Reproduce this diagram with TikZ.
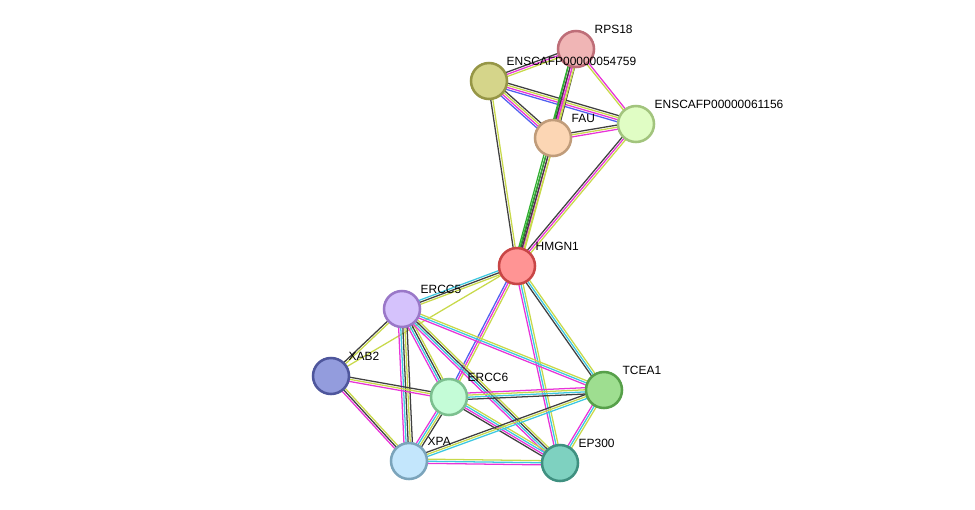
\documentclass[tikz,border=0pt]{standalone}
\usepackage{fontspec}
\setmainfont{Liberation Sans}
\usepackage{xcolor}
\usepackage{tikz}
\usetikzlibrary{positioning,calc,backgrounds}

\definecolor{tmyel}{HTML}{C8D94A}
\definecolor{expmag}{HTML}{E834D8}
\definecolor{dbcyan}{HTML}{3CC8E0}
\definecolor{coexp}{HTML}{404040}
\definecolor{homblue}{HTML}{5060F0}
\definecolor{nbgreen}{HTML}{30B030}

\tikzset{
  prot/.style={circle, draw, line width=1.8pt, minimum size=0.9cm, inner sep=0pt},
  lbl/.style={anchor=south west, inner sep=1pt, font=\fontsize{8.5}{9}\selectfont},
  link/.style={line width=0.9pt}
}

\newcommand{\multiedge}[4]{%
  \foreach \c [count=\i] in {#4} {
    \pgfmathsetmacro\off{(\i-1-(#3-1)/2)*1.5}
    \draw [link, \c] ($(#1)!\off pt!90:(#2)$) to ($(#2)!\off pt!-90:(#1)$);
  }
}

\begin{document}
\begin{tikzpicture}[x=0.025cm, y=-0.025cm]
    \useasboundingbox (0,0) rectangle (975,509);

    \node [prot, fill={rgb,255:red,240;green,181;blue,181}, draw={rgb,255:red,190;green,110;blue,120}] (RPS) at (576,49) {};
    \node [prot, fill={rgb,255:red,213;green,213;blue,138}, draw={rgb,255:red,150;green,150;blue,70}] (ENSA) at (489,81) {};
    \node [prot, fill={rgb,255:red,252;green,214;blue,180}, draw={rgb,255:red,192;green,156;blue,122}] (FAU) at (553,138) {};
    \node [prot, fill={rgb,255:red,224;green,253;blue,196}, draw={rgb,255:red,162;green,196;blue,125}] (ENSB) at (636,124) {};
    \node [prot, fill={rgb,255:red,255;green,148;blue,148}, draw={rgb,255:red,200;green,70;blue,70}] (HMGN) at (517,266) {};
    \node [prot, fill={rgb,255:red,213;green,194;blue,252}, draw={rgb,255:red,154;green,120;blue,200}] (ERCCv) at (402,309) {};
    \node [prot, fill={rgb,255:red,147;green,156;blue,221}, draw={rgb,255:red,78;green,86;blue,156}] (XAB) at (331,376) {};
    \node [prot, fill={rgb,255:red,196;green,252;blue,215}, draw={rgb,255:red,124;green,192;blue,143}] (ERCCvi) at (449,397) {};
    \node [prot, fill={rgb,255:red,158;green,222;blue,144}, draw={rgb,255:red,87;green,160;blue,74}] (TCEA) at (604,390) {};
    \node [prot, fill={rgb,255:red,195;green,230;blue,252}, draw={rgb,255:red,123;green,164;blue,187}] (XPA) at (409,461) {};
    \node [prot, fill={rgb,255:red,126;green,209;blue,192}, draw={rgb,255:red,63;green,144;blue,128}] (EP) at (560,463) {};

    % labels
    \node [lbl] at ([shift={(17,-14)}]RPS.center) {RPS18};
    \node [lbl] at ([shift={(16,-14)}]ENSA.center) {ENSCAFP00000054759};
    \node [lbl] at ([shift={(17,-14)}]FAU.center) {FAU};
    \node [lbl] at ([shift={(17,-14)}]ENSB.center) {ENSCAFP00000061156};
    \node [lbl] at ([shift={(17,-14)}]HMGN.center) {HMGN1};
    \node [lbl] at ([shift={(17,-14)}]ERCCv.center) {ERCC5};
    \node [lbl] at ([shift={(16,-14)}]XAB.center) {XAB2};
    \node [lbl] at ([shift={(17,-14)}]ERCCvi.center) {ERCC6};
    \node [lbl] at ([shift={(17,-14)}]TCEA.center) {TCEA1};
    \node [lbl] at ([shift={(17,-14)}]XPA.center) {XPA};
    \node [lbl] at ([shift={(17,-14)}]EP.center) {EP300};

    \begin{pgfonlayer}{background}
    \multiedge{ENSA}{RPS}{3}{tmyel,expmag,coexp}
    \multiedge{ENSA}{FAU}{4}{homblue,expmag,tmyel,coexp}
    \multiedge{ENSA}{ENSB}{4}{homblue,expmag,tmyel,coexp}
    \multiedge{ENSA}{HMGN}{2}{coexp,tmyel}
    \multiedge{RPS}{FAU}{4}{nbgreen,expmag,tmyel,coexp}
    \multiedge{RPS}{ENSB}{2}{tmyel,expmag}
    \multiedge{RPS}{HMGN}{4}{nbgreen,coexp,expmag,tmyel}
    \multiedge{FAU}{ENSB}{3}{expmag,tmyel,coexp}
    \multiedge{FAU}{HMGN}{3}{nbgreen,coexp,tmyel}
    \multiedge{ENSB}{HMGN}{3}{coexp,expmag,tmyel}
    \multiedge{HMGN}{ERCCv}{3}{dbcyan,coexp,tmyel}
    \multiedge{HMGN}{XAB}{1}{tmyel}
    \multiedge{HMGN}{ERCCvi}{3}{homblue,expmag,tmyel}
    \multiedge{HMGN}{TCEA}{3}{coexp,dbcyan,tmyel}
    \multiedge{HMGN}{EP}{3}{expmag,dbcyan,tmyel}
    \multiedge{ERCCv}{XAB}{2}{coexp,tmyel}
    \multiedge{ERCCv}{ERCCvi}{4}{expmag,dbcyan,coexp,tmyel}
    \multiedge{ERCCv}{XPA}{5}{expmag,dbcyan,coexp,tmyel,coexp}
    \multiedge{ERCCv}{TCEA}{3}{expmag,dbcyan,tmyel}
    \multiedge{ERCCv}{EP}{4}{expmag,dbcyan,coexp,tmyel}
    \multiedge{XAB}{ERCCvi}{3}{expmag,tmyel,coexp}
    \multiedge{XAB}{XPA}{3}{expmag,coexp,tmyel}
    \multiedge{ERCCvi}{TCEA}{4}{coexp,dbcyan,tmyel,expmag}
    \multiedge{ERCCvi}{XPA}{4}{expmag,dbcyan,tmyel,coexp}
    \multiedge{ERCCvi}{EP}{4}{coexp,expmag,dbcyan,tmyel}
    \multiedge{TCEA}{XPA}{3}{coexp,tmyel,dbcyan}
    \multiedge{TCEA}{EP}{3}{expmag,dbcyan,tmyel}
    \multiedge{XPA}{EP}{3}{expmag,dbcyan,tmyel}
    \end{pgfonlayer}
  \end{tikzpicture}
\end{document}
